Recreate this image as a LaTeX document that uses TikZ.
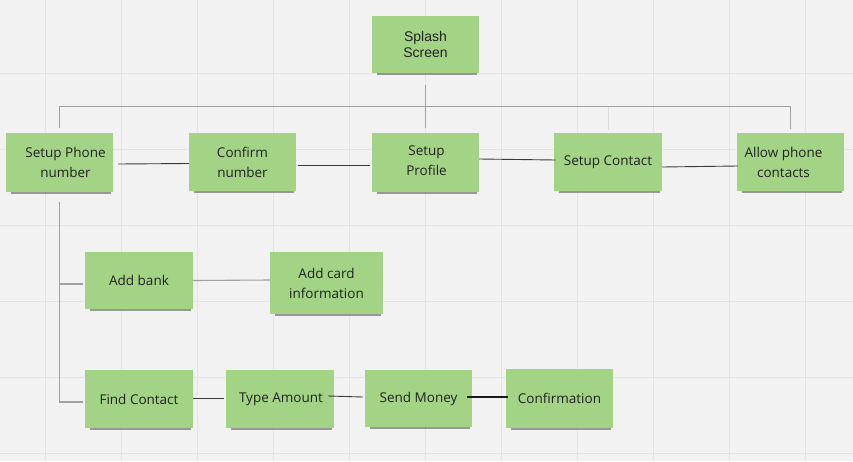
\documentclass[tikz,border=0pt]{standalone}
\usepackage{fontspec}
\setmainfont{Open Sans}
\newfontfamily\splashfont{Liberation Sans}
\usetikzlibrary{calc,shadows}
\definecolor{bg}{HTML}{F2F2F2}
\definecolor{gridc}{HTML}{E4E4E4}
\definecolor{sticky}{HTML}{A3D385}
\definecolor{txt}{HTML}{222222}
\definecolor{treec}{HTML}{A0A0A0}
\definecolor{linkc}{HTML}{3A3A3A}
\tikzset{
  note/.style={rectangle, fill=sticky, minimum width=107pt, minimum height=58pt,
    inner sep=2pt, text=txt, align=center, font=\fontsize{13.5}{20}\selectfont,
    drop shadow={shadow xshift=1.5pt, shadow yshift=-4pt, shadow scale=0.94, opacity=0.5, fill=black!75}},
  tree/.style={draw=treec, line width=1.1pt},
  link/.style={draw=linkc, line width=0.9pt},
  boldlink/.style={draw=black!90, line width=1.5pt}
}
\begin{document}
\begin{tikzpicture}[x=1pt,y=-1pt]
\useasboundingbox (0,0) rectangle (853,461);
\fill[bg] (0,0) rectangle (853,461);
\foreach \gx in {45,121,197,273,349,425,501,577,653,729,805}
  \draw[gridc, line width=0.8pt] (\gx,0) -- (\gx,461);
\foreach \gy in {73,149,225,301,377,453}
  \draw[gridc, line width=0.8pt] (0,\gy) -- (853,\gy);

\node[note, font=\splashfont\fontsize{14}{16}\selectfont, minimum height=57pt] (splash) at (425.5,44.5) {Splash\\Screen};
\node[note, minimum height=59pt] (phone) at (59.5,162.5) {\hspace*{12pt}Setup Phone\\\hspace*{12pt}number};
\node[note] (confirm) at (242.5,162) {Confirm\\number};
\node[note, minimum height=59pt] (profile) at (425.5,162.5) {\raisebox{4pt}{\hspace*{2pt}Setup}\\\raisebox{4pt}{\hspace*{2pt}Profile}};
\node[note, minimum width=108pt] (contact) at (608,162) {Setup Contact};
\node[note] (allow) at (790.5,162) {\hspace*{-14pt}Allow phone\\\hspace*{-14pt}contacts};
\node[note, minimum width=108pt, minimum height=57pt] (bank) at (139,280.5) {Add bank};
\node[note, minimum width=113pt, minimum height=62pt] (card) at (326.5,283) {Add card\\information};
\node[note, minimum width=108pt] (find) at (139,399) {Find Contact};
\node[note, minimum width=108pt] (type) at (280,399) {\hspace*{2pt}Type Amount};
\node[note, minimum height=57pt] (send) at (418.5,398.5) {Send Money};
\node[note, minimum height=59pt] (conf) at (559.5,398.5) {Confirmation};

% tree connectors
\draw[tree] ($(splash.south)+(0,12)$) -- ($(profile.north)+(0,-5)$);
\draw[tree] ($(phone.north)+(0,-5)$) -- ++(0,-21) -| ($(allow.north)+(0,-4)$);
\draw[draw=gridc!90!treec, line width=1pt] ($(contact.north)+(0,-26)$) -- ($(contact.north)+(0,-3)$);
\draw[tree] ($(phone.south)+(0,10)$) |- ($(find.west)+(-2,3)$);
\draw[tree] (phone.south |- bank.west) ++(0,3.5) -- ($(bank.west)+(-2,3.5)$);
\draw[tree] (bank.east) -- ($(card.west)+(0,-3)$);

% links
\draw[link] ($(phone.east)+(5,1.5)$) -- ($(confirm.west)+(0,1.5)$);
\draw[link] ($(confirm.east)+(2,3)$) -- ($(profile.west)+(-2,2.5)$);
\draw[link] ($(profile.east)+(0,-3.5)$) -- ($(contact.west)+(2,-2)$);
\draw[link] ($(contact.east)+(0,5)$) -- ($(allow.west)+(1,4)$);
\draw[link] ($(find.east)+(0,-1)$) -- ($(type.west)+(-2,-1)$);
\draw[link] ($(type.east)+(-6,-3)$) -- ($(send.west)+(-2,-1.5)$);
\draw[boldlink] ($(send.east)+(-5,-1.5)$) -- ($(conf.west)+(2,-1.5)$);
\end{tikzpicture}
\end{document}
